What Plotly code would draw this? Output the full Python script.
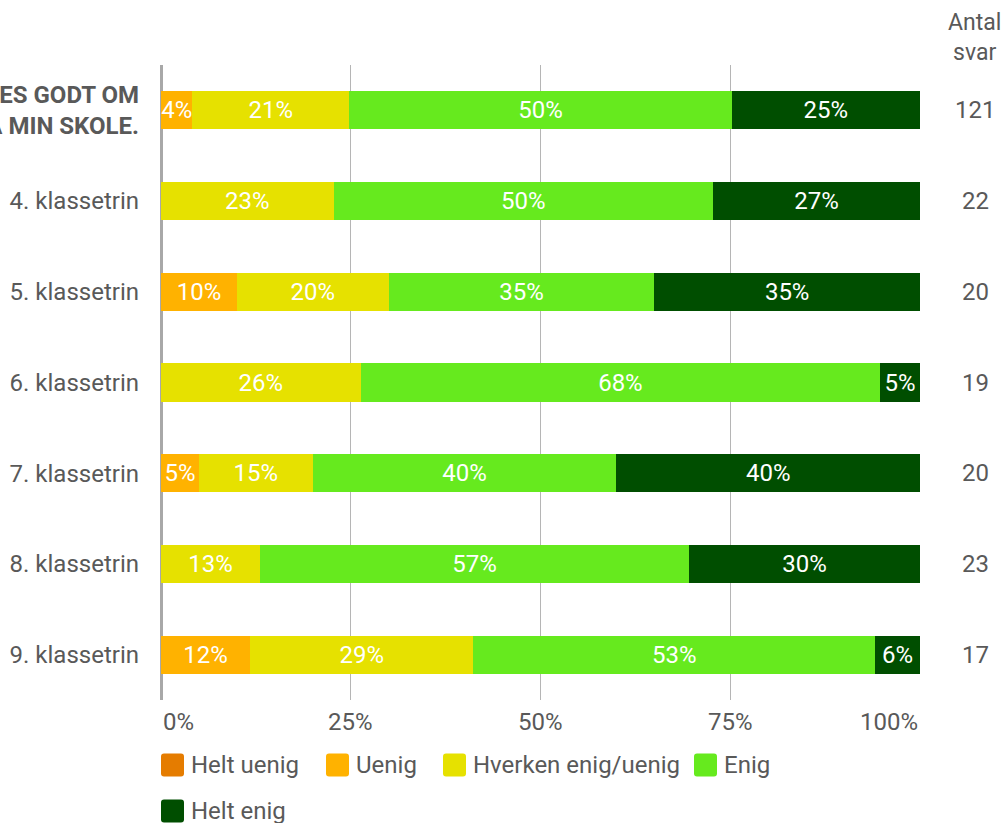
import plotly.graph_objects as go

# data
categories = [
    "<b>DER TALES GODT OM<br>ELEVERNE PÅ MIN SKOLE.</b>",
    "4. klassetrin", "5. klassetrin", "6. klassetrin", "7. klassetrin",
    "8. klassetrin", "9. klassetrin",
]
antal_svar = [121, 22, 20, 19, 20, 23, 17]

series_names = ["Helt uenig", "Uenig", "Hverken enig/uenig", "Enig", "Helt enig"]
helt_uenig = [0, 0, 0, 0, 0, 0, 0]
uenig = [4.13, 0, 10, 0, 5, 0, 11.76]
hverken = [20.66, 22.73, 20, 26.32, 15, 13.04, 29.41]
enig = [50.41, 50.0, 35, 68.42, 40, 56.52, 52.94]
helt_enig = [24.79, 27.27, 35, 5.26, 40, 30.43, 5.88]
series_colors = ["#E57C00", "#FFB200", "#E6E100", "#66EA1E", "#004E00"]

x_tickvals = [0, 25, 50, 75, 100]
x_ticktext = ["0%", "25%", "50%", "75%", "100%"]

FONT = "Roboto"
GREY = "#595959"
FS = 24

W, H = 1005, 823
PL, PR, PT, PB = 161, 920, 65, 700  # plot area in page pixels
pw, ph = PR - PL, PB - PT


def px_x(px):
    return (px - PL) / pw


def px_y(py):
    return (PB - py) / ph


fig = go.Figure()
for name, vals, col in zip(series_names, [helt_uenig, uenig, hverken, enig, helt_enig], series_colors):
    fig.add_trace(go.Bar(
        y=categories, x=vals, name=name, orientation="h",
        marker=dict(color=col, line=dict(width=0)),
        text=[f"{v:.0f}%" if v > 0 else "" for v in vals],
        textposition="inside", insidetextanchor="middle", textangle=0,
        textfont=dict(color="white", size=FS, family=FONT),
        showlegend=False, hoverinfo="skip",
    ))

annotations = []
# x tick labels, edge labels pulled inward
for i, (v, t) in enumerate(zip(x_tickvals, x_ticktext)):
    anchor = "left" if i == 0 else ("right" if i == len(x_tickvals) - 1 else "center")
    annotations.append(dict(x=v, y=0, xref="x", yref="paper", text=t, showarrow=False,
                            xanchor=anchor, yanchor="top", yshift=-6,
                            font=dict(size=FS, color=GREY, family=FONT)))
# right column
for c, n in zip(categories, antal_svar):
    annotations.append(dict(x=px_x(975), y=c, xref="paper", yref="y", text=str(n), showarrow=False,
                            xanchor="center", yanchor="middle",
                            font=dict(size=FS, color=GREY, family=FONT)))
annotations.append(dict(x=px_x(974), y=px_y(38), xref="paper", yref="paper", text="Antal<br>svar",
                        showarrow=False, xanchor="center", yanchor="middle",
                        font=dict(size=FS - 1, color=GREY, family=FONT)))


def rounded_box(x0, y0, x1, y1, r=3):
    # path in paper units, corners rounded by r pixels
    rx, ry = r / pw, r / ph
    a0, a1 = px_x(x0), px_x(x1)
    b0, b1 = px_y(y1), px_y(y0)  # bottom, top
    return (f"M{a0 + rx},{b0} L{a1 - rx},{b0} Q{a1},{b0} {a1},{b0 + ry} "
            f"L{a1},{b1 - ry} Q{a1},{b1} {a1 - rx},{b1} L{a0 + rx},{b1} "
            f"Q{a0},{b1} {a0},{b1 - ry} L{a0},{b0 + ry} Q{a0},{b0} {a0 + rx},{b0} Z")


# manual legend (page pixels: swatch left, row centre)
legend_pos = [(161, 765), (326, 765), (443, 765), (694, 765), (161, 811)]
shapes = []
for name, col, (lx, ly) in zip(series_names, series_colors, legend_pos):
    shapes.append(dict(type="path", xref="paper", yref="paper",
                       path=rounded_box(lx, ly - 11.5, lx + 23, ly + 11.5),
                       fillcolor=col, line=dict(width=0)))
    annotations.append(dict(x=px_x(lx + 28), y=px_y(ly), xref="paper", yref="paper", text=name,
                            showarrow=False, xanchor="left", yanchor="middle",
                            font=dict(size=FS, color=GREY, family=FONT)))

fig.update_layout(
    width=W, height=H,
    margin=dict(l=PL, r=W - PR, t=PT, b=H - PB, autoexpand=False),
    barmode="stack", bargap=0.58,
    plot_bgcolor="white", paper_bgcolor="white",
    font=dict(family=FONT, color=GREY, size=FS),
    xaxis=dict(range=[0, 100], tickvals=x_tickvals, showticklabels=False,
               showgrid=True, gridcolor="#b5b5b5", gridwidth=1,
               zeroline=True, zerolinecolor="#a8a8a8", zerolinewidth=3,
               showline=False, fixedrange=True, automargin=False),
    yaxis=dict(type="category", autorange="reversed", showgrid=False, zeroline=False,
               automargin=False, ticks="", ticklabelstandoff=21,
               tickfont=dict(size=FS, color=GREY, family=FONT)),
    uniformtext=dict(minsize=FS, mode="show"),
    annotations=annotations, shapes=shapes,
    showlegend=False,
)

# drop the default body margin so the 1005x823 figure fills the window exactly
fig.write_html("out.html", config={"displayModeBar": False},
               post_script="document.body.style.margin='0';document.body.style.overflow='hidden';")
